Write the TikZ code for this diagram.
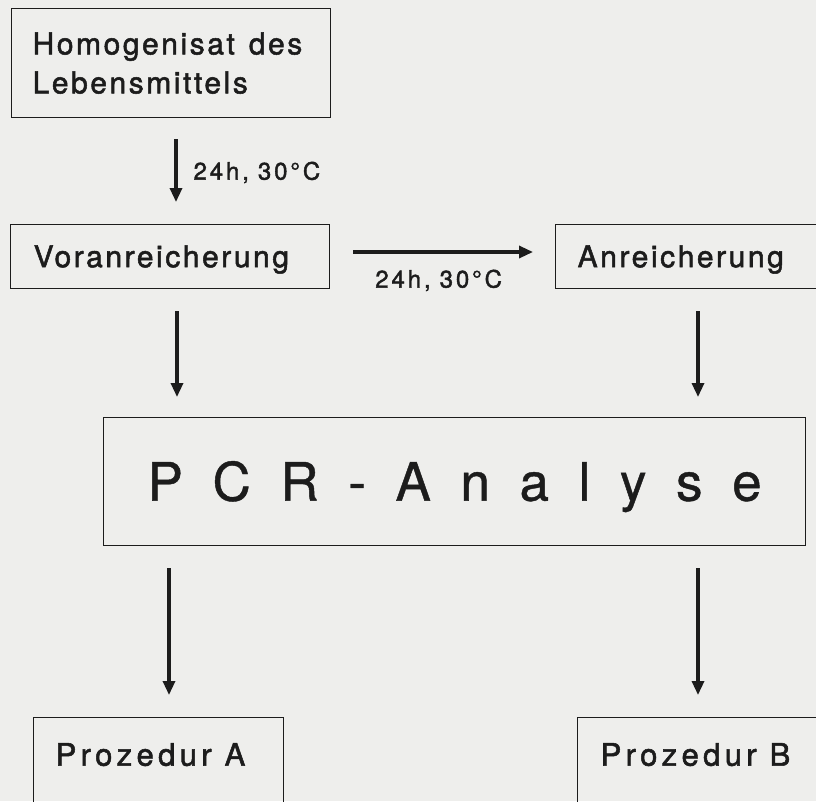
\documentclass[tikz,border=0pt]{standalone}
\usepackage{fontspec}
\setmainfont{TeX Gyre Heros}
\usetikzlibrary{arrows.meta}
\definecolor{paper}{RGB}{238,238,236}
\definecolor{ink}{RGB}{28,28,28}
\newcommand{\pcrgap}{\hspace{29.6pt}}
\begin{document}
\begin{tikzpicture}[x=1pt,y=-1pt,
  box/.style={draw=ink, line width=1.3pt, text=ink, inner sep=0pt, anchor=north west, align=left},
  boxtxt/.style={font=\fontsize{30}{39}\selectfont\addfontfeature{LetterSpace=8.5,FakeBold=1.7}},
  proztxt/.style={font=\fontsize{31}{36}\selectfont\addfontfeature{LetterSpace=14,FakeBold=1.7}},
  lbl/.style={text=ink, inner sep=0pt, font=\fontsize{24}{28}\selectfont\addfontfeature{LetterSpace=12,FakeBold=1.7}, text height=17pt, text depth=0pt},
  arr/.style={draw=ink, line width=3.2pt, -{Triangle[length=14pt,width=12pt]}}]
\clip (0,0) rectangle (816,801);
\fill[paper] (0,0) rectangle (816,801);
% columns of the arrows
\coordinate (c1) at (176,0);
\coordinate (c2) at (177,0);
\coordinate (c3) at (698,0);
\coordinate (c4) at (169,0);
\coordinate (c5) at (698,0);
\coordinate (cH) at (0,252);
% boxes
\node[box, boxtxt, minimum width=319pt, minimum height=109pt, text width=277pt] (hom) at (11,8) {Homogenisat\hspace{14pt}des\\Lebensmittels};
\node[box, boxtxt, minimum width=319pt, minimum height=64pt, text width=273pt, text height=21pt, text depth=0pt] (vor) at (10,224) {Voranreicherung};
\node[box, boxtxt, minimum width=300pt, minimum height=64pt, text width=256pt, text height=21pt, text depth=0pt] (anr) at (555,224) {Anreicherung};
\node[box, align=center, minimum width=702pt, minimum height=128pt, text height=38pt, text depth=0pt, font=\fontsize{53}{60}\selectfont\addfontfeature{FakeBold=0.8}] (pcr) at (103,417) {P\pcrgap C\pcrgap R\pcrgap -\pcrgap A\pcrgap n\pcrgap a\pcrgap l\pcrgap y\pcrgap s\pcrgap e};
\node[box, proztxt, minimum width=250pt, text width=206pt, text height=22pt, text depth=60pt, inner ysep=26pt] (pa) at (33,717) {Prozedur\hspace{13pt}A};
\node[box, proztxt, minimum width=300pt, text width=254pt, text height=22pt, text depth=60pt, inner ysep=26pt] (pb) at (577,717) {Prozedur\hspace{13pt}B};
% connectors
\draw[arr, shorten <=21pt, shorten >=22pt] (hom.south -| c1) -- node[lbl, right=16pt] {24h,\hspace{9pt}30°C} (vor.north -| c1);
\draw[arr, shorten <=23pt, shorten >=22pt] (vor.east |- cH) -- node[lbl, below=17pt, xshift=-4pt] {24h,\hspace{9pt}30°C} (anr.west |- cH);
\draw[arr, shorten <=22pt, shorten >=20pt] (vor.south -| c2) -- (pcr.north -| c2);
\draw[arr, shorten <=22pt, shorten >=20pt] (anr.south -| c3) -- (pcr.north -| c3);
\draw[arr, shorten <=22pt, shorten >=22pt] (pcr.south -| c4) -- (pa.north -| c4);
\draw[arr, shorten <=22pt, shorten >=22pt] (pcr.south -| c5) -- (pb.north -| c5);
\end{tikzpicture}
\end{document}
